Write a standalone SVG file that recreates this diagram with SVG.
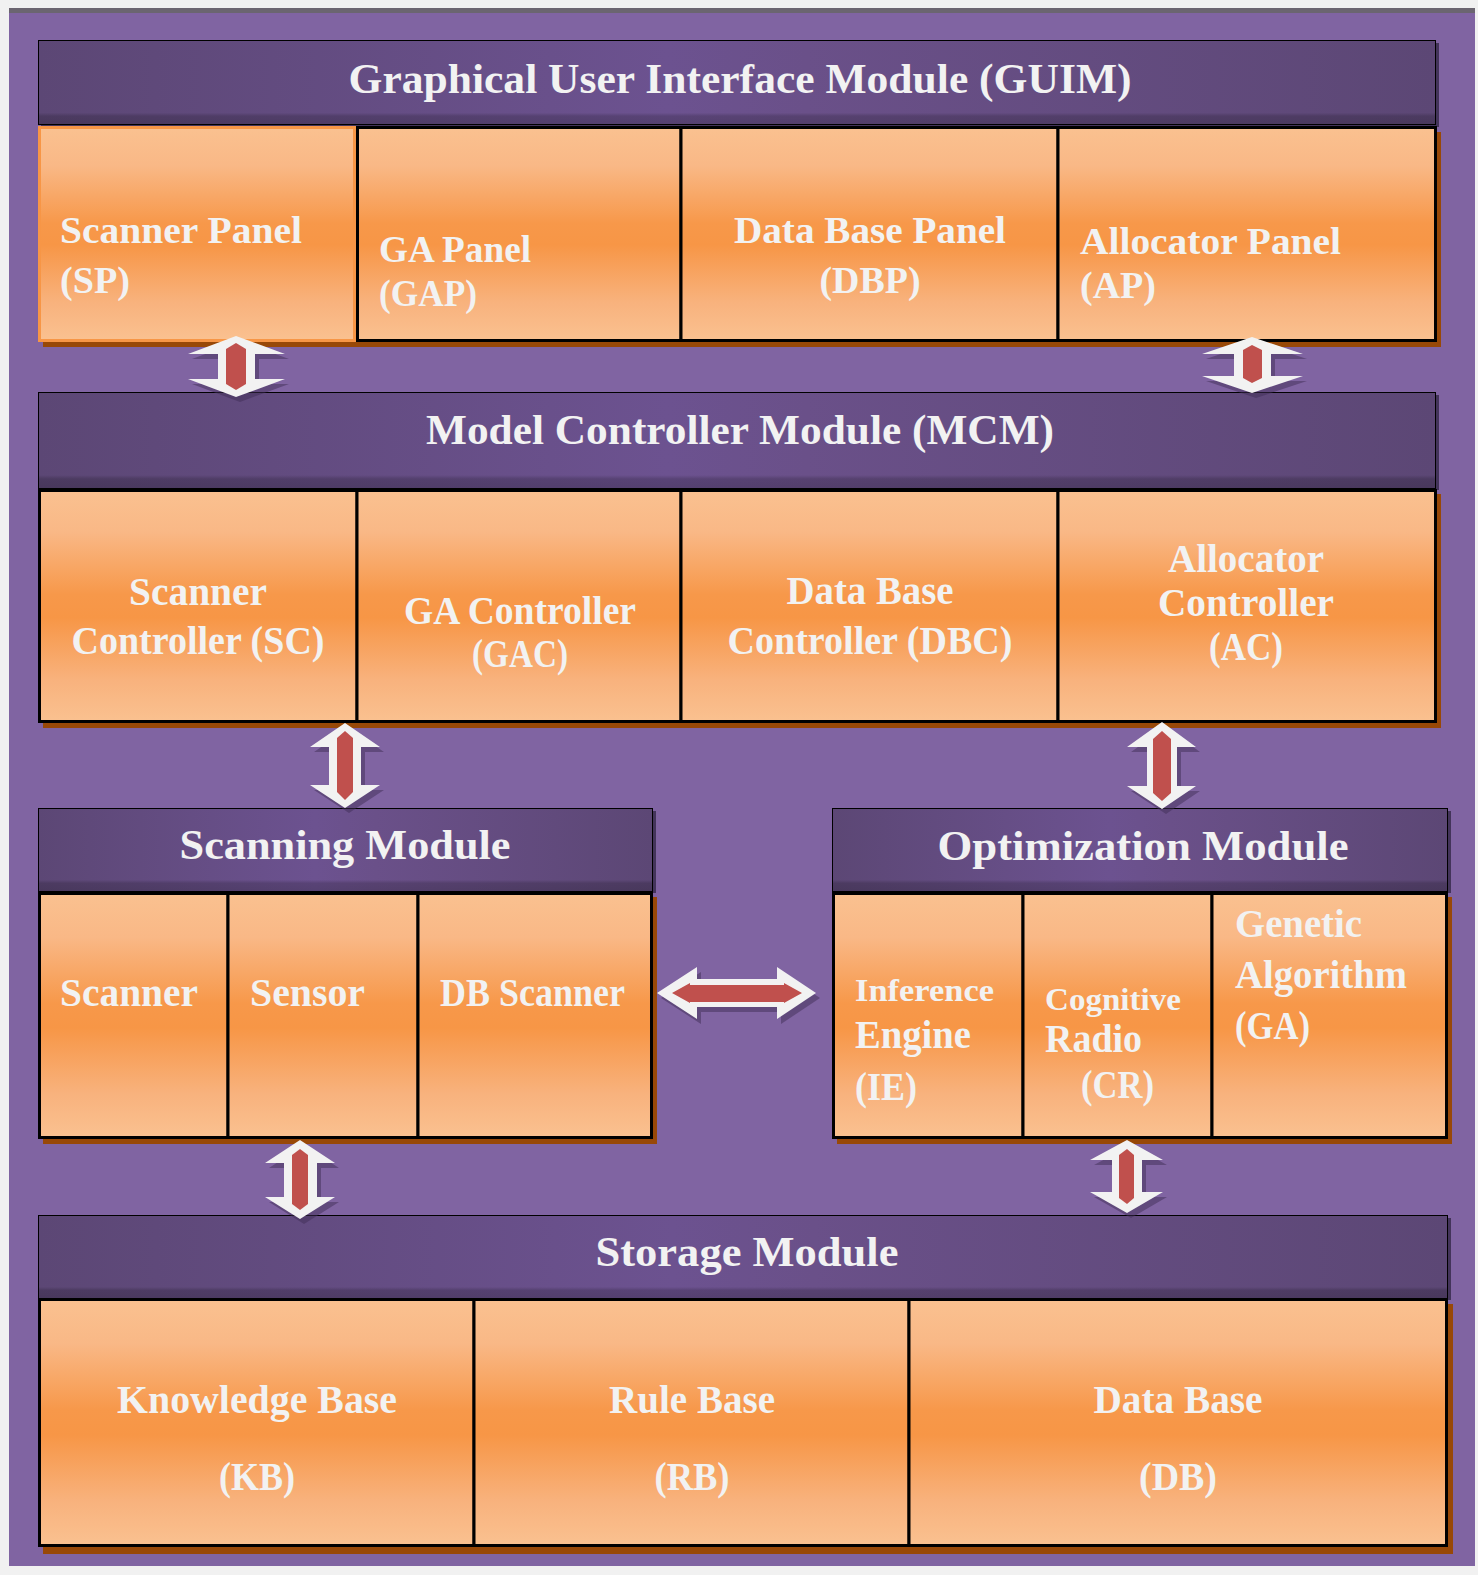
<svg xmlns="http://www.w3.org/2000/svg" width="1478" height="1575" viewBox="0 0 1478 1575">
  <defs>
    <linearGradient id="cellGrad" x1="0" y1="0" x2="0" y2="1">
      <stop offset="0" stop-color="#fac190"/>
      <stop offset="0.18" stop-color="#f9b886"/>
      <stop offset="0.45" stop-color="#f7984a"/>
      <stop offset="0.55" stop-color="#f79646"/>
      <stop offset="0.82" stop-color="#f8b27d"/>
      <stop offset="1" stop-color="#fac190"/>
    </linearGradient>
    <linearGradient id="hdrGrad" x1="0" y1="0" x2="1" y2="0">
      <stop offset="0" stop-color="#5c4775"/>
      <stop offset="0.45" stop-color="#6c5290"/>
      <stop offset="0.55" stop-color="#6a5089"/>
      <stop offset="1" stop-color="#5c4775"/>
    </linearGradient>
    <linearGradient id="hdrShade" x1="0" y1="0" x2="0" y2="1">
      <stop offset="0" stop-color="#000" stop-opacity="0"/>
      <stop offset="0.86" stop-color="#000" stop-opacity="0"/>
      <stop offset="0.9" stop-color="#000" stop-opacity="0.18"/>
      <stop offset="1" stop-color="#000" stop-opacity="0.22"/>
    </linearGradient>
    <style>
      .page { fill: #f1f1f1; }
      .frame { fill: #8064a2; }
      .hdr { fill: url(#hdrGrad); stroke: #000; stroke-width: 1; }
      .hdrShade { fill: url(#hdrShade); }
      .hdrShadow { fill: #43345a; }
      .cell { fill: url(#cellGrad); stroke: #000; stroke-width: 3; }
      .cellSP { fill: url(#cellGrad); stroke: #f79646; stroke-width: 3; }
      .rowShadow { fill: #984807; }
      text { font-family: "Liberation Serif", "Times New Roman", serif; font-weight: bold; fill: #f2f2f2; }
      .title { font-size: 43px; text-anchor: middle; }
      .lbl { font-size: 38px; }
      .lbl40 { font-size: 40px; }
      .sm { font-size: 32px; }
      .mid { text-anchor: middle; }
      .arrW { fill: #f2f2f2; }
      .arrR { fill: #c0504d; }
      .arrS { fill: #3f2d55; opacity: 0.5; }
    </style>
  </defs>

  <!-- background and frame -->
  <rect class="page" x="0" y="0" width="1478" height="1575"/>
  <rect x="9" y="8" width="1466" height="6" fill="#6b6570"/>
  <rect class="frame" x="9" y="13" width="1466" height="1553"/>

  <!-- Graphical User Interface Module -->
  <g id="guim">
    <rect class="hdrShadow" x="41" y="43" width="1398" height="84"/>
    <rect class="hdr" x="38.5" y="40.5" width="1397" height="84"/>
    <rect class="hdrShade" x="38.5" y="40.5" width="1397" height="84"/>
    <text class="title" x="740" y="93" textLength="783" lengthAdjust="spacingAndGlyphs">Graphical User Interface Module (GUIM)</text>
  </g>
  <g id="guim-panels">
    <rect class="rowShadow" x="43" y="132" width="1398" height="215"/>
    <g id="sp">
      <rect class="cellSP" x="39.5" y="127.5" width="315" height="213"/>
      <text class="lbl" x="60" y="243" textLength="242" lengthAdjust="spacingAndGlyphs">Scanner Panel</text>
      <text class="lbl" x="60" y="293" textLength="70" lengthAdjust="spacingAndGlyphs">(SP)</text>
    </g>
    <g id="gap">
      <rect class="cell" x="357.5" y="127.5" width="323.5" height="213"/>
      <text class="lbl" x="379" y="262" textLength="152" lengthAdjust="spacingAndGlyphs">GA Panel</text>
      <text class="lbl" x="379" y="306" textLength="98" lengthAdjust="spacingAndGlyphs">(GAP)</text>
    </g>
    <g id="dbp">
      <rect class="cell" x="681" y="127.5" width="377" height="213"/>
      <text class="lbl mid" x="870" y="243" textLength="272" lengthAdjust="spacingAndGlyphs">Data Base Panel</text>
      <text class="lbl mid" x="870" y="293" textLength="101" lengthAdjust="spacingAndGlyphs">(DBP)</text>
    </g>
    <g id="ap">
      <rect class="cell" x="1058" y="127.5" width="377.5" height="213"/>
      <text class="lbl" x="1080" y="254" textLength="261" lengthAdjust="spacingAndGlyphs">Allocator Panel</text>
      <text class="lbl" x="1080" y="298" textLength="76" lengthAdjust="spacingAndGlyphs">(AP)</text>
    </g>
  </g>

  <!-- Model Controller Module -->
  <g id="mcm">
    <rect class="hdrShadow" x="41" y="395" width="1398" height="95"/>
    <rect class="hdr" x="38.5" y="392.5" width="1397" height="96"/>
    <rect class="hdrShade" x="38.5" y="392.5" width="1397" height="96"/>
    <text class="title" x="740" y="444" textLength="628" lengthAdjust="spacingAndGlyphs">Model Controller Module (MCM)</text>
  </g>
  <g id="mcm-panels">
    <rect class="rowShadow" x="43" y="494" width="1398" height="234"/>
    <g id="sc">
      <rect class="cell" x="39.5" y="490.5" width="317.5" height="231"/>
      <text class="lbl40 mid" x="198" y="605" textLength="138" lengthAdjust="spacingAndGlyphs">Scanner</text>
      <text class="lbl40 mid" x="198" y="654" textLength="253" lengthAdjust="spacingAndGlyphs">Controller (SC)</text>
    </g>
    <g id="gac">
      <rect class="cell" x="357" y="490.5" width="324" height="231"/>
      <text class="lbl40 mid" x="520" y="624" textLength="232" lengthAdjust="spacingAndGlyphs">GA Controller</text>
      <text class="lbl40 mid" x="520" y="667" textLength="96" lengthAdjust="spacingAndGlyphs">(GAC)</text>
    </g>
    <g id="dbc">
      <rect class="cell" x="681" y="490.5" width="377" height="231"/>
      <text class="lbl40 mid" x="870" y="604" textLength="167" lengthAdjust="spacingAndGlyphs">Data Base</text>
      <text class="lbl40 mid" x="870" y="654" textLength="285" lengthAdjust="spacingAndGlyphs">Controller (DBC)</text>
    </g>
    <g id="ac">
      <rect class="cell" x="1058" y="490.5" width="377.5" height="231"/>
      <text class="lbl40 mid" x="1246" y="572" textLength="156" lengthAdjust="spacingAndGlyphs">Allocator</text>
      <text class="lbl40 mid" x="1246" y="616" textLength="176" lengthAdjust="spacingAndGlyphs">Controller</text>
      <text class="lbl40 mid" x="1246" y="660" textLength="74" lengthAdjust="spacingAndGlyphs">(AC)</text>
    </g>
  </g>

  <!-- Scanning Module -->
  <g id="scanning">
    <rect class="hdrShadow" x="41" y="811" width="615" height="82"/>
    <rect class="hdr" x="38.5" y="808.5" width="614" height="83"/>
    <rect class="hdrShade" x="38.5" y="808.5" width="614" height="83"/>
    <text class="title" x="345" y="859" textLength="331" lengthAdjust="spacingAndGlyphs">Scanning Module</text>
  </g>
  <g id="scanning-panels">
    <rect class="rowShadow" x="43" y="897" width="614" height="247"/>
    <g id="scanner">
      <rect class="cell" x="39.5" y="893.5" width="188.5" height="244"/>
      <text class="lbl40" x="60" y="1006" textLength="138" lengthAdjust="spacingAndGlyphs">Scanner</text>
    </g>
    <g id="sensor">
      <rect class="cell" x="228" y="893.5" width="190" height="244"/>
      <text class="lbl40" x="250" y="1006" textLength="115" lengthAdjust="spacingAndGlyphs">Sensor</text>
    </g>
    <g id="dbscanner">
      <rect class="cell" x="418" y="893.5" width="233.5" height="244"/>
      <text class="lbl40" x="440" y="1006" textLength="185" lengthAdjust="spacingAndGlyphs">DB Scanner</text>
    </g>
  </g>

  <!-- Optimization Module -->
  <g id="optimization">
    <rect class="hdrShadow" x="835" y="811" width="616" height="82"/>
    <rect class="hdr" x="832.5" y="808.5" width="615" height="83"/>
    <rect class="hdrShade" x="832.5" y="808.5" width="615" height="83"/>
    <text class="title" x="1143" y="860" textLength="411" lengthAdjust="spacingAndGlyphs">Optimization Module</text>
  </g>
  <g id="optimization-panels">
    <rect class="rowShadow" x="837" y="897" width="615" height="247"/>
    <g id="ie">
      <rect class="cell" x="833.5" y="893.5" width="189.5" height="244"/>
      <text class="sm" x="855" y="1001" textLength="139" lengthAdjust="spacingAndGlyphs">Inference</text>
      <text class="lbl40" x="855" y="1048" textLength="116" lengthAdjust="spacingAndGlyphs">Engine</text>
      <text class="lbl40" x="855" y="1100" textLength="62" lengthAdjust="spacingAndGlyphs">(IE)</text>
    </g>
    <g id="cr">
      <rect class="cell" x="1023" y="893.5" width="189" height="244"/>
      <text class="sm" x="1045" y="1010" textLength="136" lengthAdjust="spacingAndGlyphs">Cognitive</text>
      <text class="lbl40" x="1045" y="1052" textLength="97" lengthAdjust="spacingAndGlyphs">Radio</text>
      <text class="lbl40" x="1081" y="1098" textLength="73" lengthAdjust="spacingAndGlyphs">(CR)</text>
    </g>
    <g id="ga">
      <rect class="cell" x="1212" y="893.5" width="234.5" height="244"/>
      <text class="lbl40" x="1235" y="937" textLength="127" lengthAdjust="spacingAndGlyphs">Genetic</text>
      <text class="lbl40" x="1235" y="988" textLength="172" lengthAdjust="spacingAndGlyphs">Algorithm</text>
      <text class="lbl40" x="1235" y="1039" textLength="75" lengthAdjust="spacingAndGlyphs">(GA)</text>
    </g>
  </g>

  <!-- Storage Module -->
  <g id="storage">
    <rect class="hdrShadow" x="41" y="1218" width="1410" height="82"/>
    <rect class="hdr" x="38.5" y="1215.5" width="1409" height="83"/>
    <rect class="hdrShade" x="38.5" y="1215.5" width="1409" height="83"/>
    <text class="title" x="747" y="1266" textLength="303" lengthAdjust="spacingAndGlyphs">Storage Module</text>
  </g>
  <g id="storage-panels">
    <rect class="rowShadow" x="43" y="1304" width="1410" height="250"/>
    <g id="kb">
      <rect class="cell" x="39.5" y="1299.5" width="434.5" height="246"/>
      <text class="lbl40 mid" x="257" y="1413" textLength="280" lengthAdjust="spacingAndGlyphs">Knowledge Base</text>
      <text class="lbl40 mid" x="257" y="1490" textLength="76" lengthAdjust="spacingAndGlyphs">(KB)</text>
    </g>
    <g id="rb">
      <rect class="cell" x="474" y="1299.5" width="435" height="246"/>
      <text class="lbl40 mid" x="692" y="1413" textLength="166" lengthAdjust="spacingAndGlyphs">Rule Base</text>
      <text class="lbl40 mid" x="692" y="1490" textLength="75" lengthAdjust="spacingAndGlyphs">(RB)</text>
    </g>
    <g id="db">
      <rect class="cell" x="909" y="1299.5" width="537.5" height="246"/>
      <text class="lbl40 mid" x="1178" y="1413" textLength="169" lengthAdjust="spacingAndGlyphs">Data Base</text>
      <text class="lbl40 mid" x="1178" y="1490" textLength="78" lengthAdjust="spacingAndGlyphs">(DB)</text>
    </g>
  </g>

  <!-- Connectors -->
  <g id="connectors">
    <g id="arrow-sp-mcm">
      <path class="arrS" transform="translate(4,5)" d="M236,336 L285,354 L255,354 L255,379 L285,379 L236,397 L188,379 L218,379 L218,354 L188,354 Z"/>
      <path class="arrW" d="M236,336 L285,354 L255,354 L255,379 L285,379 L236,397 L188,379 L218,379 L218,354 L188,354 Z"/>
      <path class="arrR" d="M236,343 L246,349 L246,384 L236,390 L226,384 L226,349 Z"/>
    </g>
    <g id="arrow-ap-mcm">
      <path class="arrS" transform="translate(4,5)" d="M1252,337 L1303,354 L1271,354 L1271,376 L1303,376 L1252,393 L1202,376 L1234,376 L1234,354 L1202,354 Z"/>
      <path class="arrW" d="M1252,337 L1303,354 L1271,354 L1271,376 L1303,376 L1252,393 L1202,376 L1234,376 L1234,354 L1202,354 Z"/>
      <path class="arrR" d="M1252,345 L1262,350 L1262,378 L1252,383 L1243,378 L1243,350 Z"/>
    </g>
    <g id="arrow-mcm-scan">
      <path class="arrS" transform="translate(4,5)" d="M345,723 L380,747 L361,747 L361,785 L380,785 L345,808 L310,785 L329,785 L329,747 L310,747 Z"/>
      <path class="arrW" d="M345,723 L380,747 L361,747 L361,785 L380,785 L345,808 L310,785 L329,785 L329,747 L310,747 Z"/>
      <path class="arrR" d="M345,731 L353,738 L353,792 L345,800 L337,792 L337,738 Z"/>
    </g>
    <g id="arrow-mcm-opt">
      <path class="arrS" transform="translate(4,5)" d="M1162,722 L1196,747 L1177,747 L1177,786 L1196,786 L1162,809 L1127,786 L1147,786 L1147,747 L1127,747 Z"/>
      <path class="arrW" d="M1162,722 L1196,747 L1177,747 L1177,786 L1196,786 L1162,809 L1127,786 L1147,786 L1147,747 L1127,747 Z"/>
      <path class="arrR" d="M1162,731 L1171,739 L1171,793 L1162,801 L1153,793 L1153,739 Z"/>
    </g>
    <g id="arrow-scan-opt">
      <path class="arrS" transform="translate(4,5)" d="M657,993 L697,967 L697,979 L777,979 L777,967 L816,993 L777,1019 L777,1007 L697,1007 L697,1019 Z"/>
      <path class="arrW" d="M657,993 L697,967 L697,979 L777,979 L777,967 L816,993 L777,1019 L777,1007 L697,1007 L697,1019 Z"/>
      <path class="arrR" d="M672,993 L690,983 L690,985 L784,985 L784,983 L802,993 L784,1003 L784,1002 L690,1002 L690,1003 Z"/>
    </g>
    <g id="arrow-scan-storage">
      <path class="arrS" transform="translate(4,5)" d="M300,1140 L335,1163 L317,1163 L317,1197 L335,1197 L300,1219 L265,1197 L284,1197 L284,1163 L265,1163 Z"/>
      <path class="arrW" d="M300,1140 L335,1163 L317,1163 L317,1197 L335,1197 L300,1219 L265,1197 L284,1197 L284,1163 L265,1163 Z"/>
      <path class="arrR" d="M300,1149 L308,1155 L308,1204 L300,1210 L292,1204 L292,1155 Z"/>
    </g>
    <g id="arrow-opt-storage">
      <path class="arrS" transform="translate(4,5)" d="M1127,1140 L1163,1160 L1142,1160 L1142,1192 L1163,1192 L1127,1213 L1090,1192 L1112,1192 L1112,1160 L1090,1160 Z"/>
      <path class="arrW" d="M1127,1140 L1163,1160 L1142,1160 L1142,1192 L1163,1192 L1127,1213 L1090,1192 L1112,1192 L1112,1160 L1090,1160 Z"/>
      <path class="arrR" d="M1127,1149 L1134,1155 L1134,1198 L1127,1204 L1119,1198 L1119,1155 Z"/>
    </g>
  </g>
</svg>
